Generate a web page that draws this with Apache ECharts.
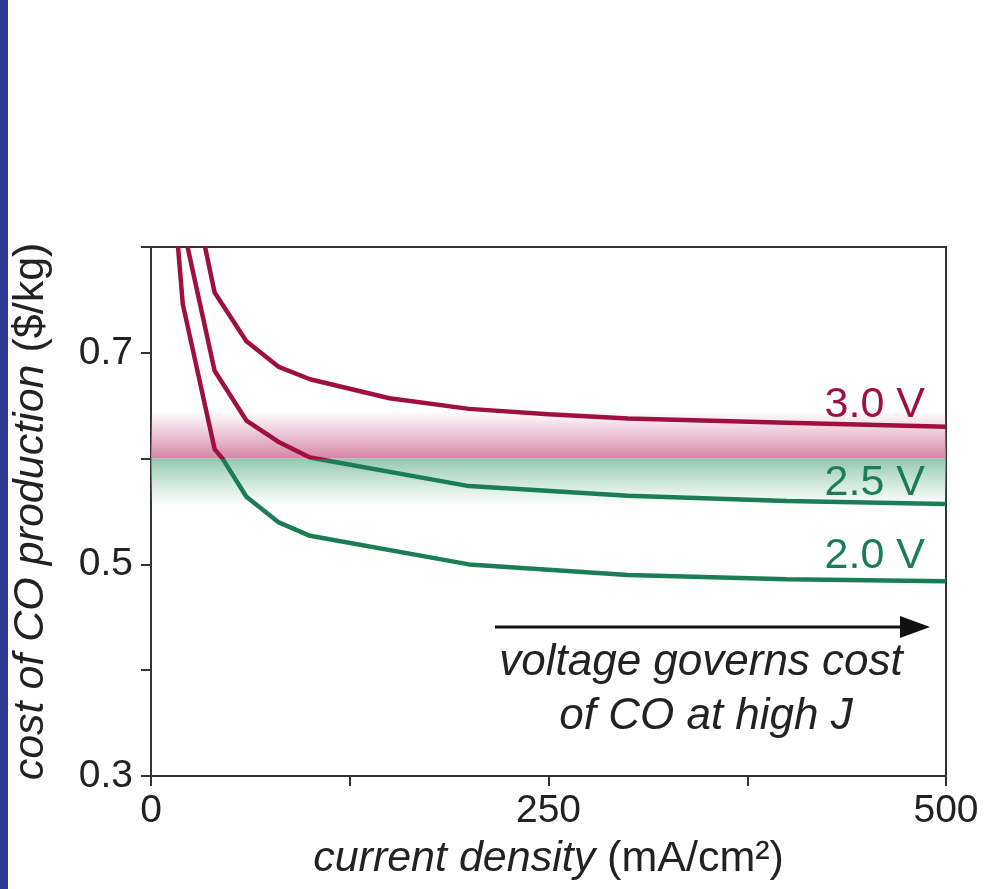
<!DOCTYPE html>
<html>
<head>
<meta charset="utf-8">
<script src="https://cdn.jsdelivr.net/npm/echarts@6/dist/echarts.min.js"></script>
<style>
  html, body { margin: 0; padding: 0; background: #fff; }
  #main { width: 984px; height: 889px; }
</style>
</head>
<body>
<div id="main"></div>
<script>
// current density (mA/cm2) and cost ($/kg)
var x30 = [34, 40, 60, 80, 100, 150, 200, 250, 300, 400, 500];
var y30 = [0.8, 0.757, 0.711, 0.687, 0.675, 0.657, 0.647, 0.642, 0.638, 0.634, 0.630];
var x25 = [23, 40, 60, 80, 100, 200, 300, 400, 500];
var y25 = [0.8, 0.683, 0.636, 0.616, 0.601, 0.574, 0.565, 0.560, 0.557];
var x20 = [17, 20, 40, 45, 60, 80, 100, 200, 300, 400, 500];
var y20 = [0.8, 0.746, 0.609, 0.600, 0.564, 0.540, 0.527, 0.500, 0.490, 0.486, 0.484];
var seriesNames = ['3.0 V', '2.5 V', '2.0 V'];
var xTickLabels = ['0', '250', '500'];
var yTickLabels = ['0.3', '0.5', '0.7'];
var threshold = 0.6;
var bandTop = 0.645;
var bandBottom = 0.555;

var RED = '#a0103f';
var GREEN = '#1b7d55';
var FONT = 'Liberation Sans';

function pairs(xs, ys) {
    return xs.map(function (x, i) { return [x, ys[i]]; });
}

var chart = echarts.init(document.getElementById('main'));

var lineStyle = { width: 4.5 };
var nameStyle = {
    fontFamily: FONT, fontSize: 43, color: '#222',
    rich: { i: { fontFamily: FONT, fontSize: 43, fontStyle: 'italic', color: '#222' } }
};

var option = {
    animation: false,
    textStyle: { fontFamily: FONT },
    grid: {
        left: 151, right: 38, top: 247, bottom: 113,
        outerBoundsMode: 'none',
        containLabel: false,
        show: true, borderColor: '#333', borderWidth: 2
    },
    visualMap: {
        type: 'piecewise',
        show: false,
        dimension: 1,
        seriesIndex: [1, 2, 3],
        pieces: [
            { gte: threshold, lte: 2, color: RED },
            { gte: -1, lt: threshold, color: GREEN }
        ]
    },
    xAxis: {
        type: 'value',
        min: 0, max: 500, interval: 125,
        name: '{i|current density} (mA/cm²)',
        nameLocation: 'middle',
        nameGap: 62,
        nameTextStyle: nameStyle,
        axisLine: { show: true, lineStyle: { color: '#333', width: 2 } },
        axisTick: { show: true, length: 10, lineStyle: { color: '#333', width: 2 } },
        splitLine: { show: false },
        axisLabel: {
            margin: 16, fontSize: 39, color: '#222', fontFamily: FONT,
            formatter: function (v) {
                var s = String(v);
                return xTickLabels.indexOf(s) >= 0 ? s : '';
            }
        }
    },
    yAxis: {
        type: 'value',
        min: 0.3, max: 0.8, interval: 0.1,
        name: '{i|cost of CO production} ($/kg)',
        nameLocation: 'middle',
        nameRotate: 90,
        nameGap: 98,
        nameTextStyle: nameStyle,
        axisLine: { show: true, lineStyle: { color: '#333', width: 2 } },
        axisTick: { show: true, length: 10, lineStyle: { color: '#333', width: 2 } },
        splitLine: { show: false },
        axisLabel: {
            margin: 18, fontSize: 39, color: '#222', fontFamily: FONT,
            formatter: function (v) {
                var s = v.toFixed(1);
                return yTickLabels.indexOf(s) >= 0 ? s : '';
            }
        }
    },
    series: [
        {
            // background bands, drawn under the curves
            type: 'line', data: [], z: 1, silent: true,
            markArea: {
                silent: true,
                data: [
                    [{
                        yAxis: threshold,
                        itemStyle: {
                            color: {
                                type: 'linear', x: 0, y: 0, x2: 0, y2: 1,
                                colorStops: [
                                    { offset: 0, color: 'rgba(214,138,168,0)' },
                                    { offset: 1, color: 'rgba(210,125,160,0.95)' }
                                ]
                            }
                        }
                    }, { yAxis: bandTop }],
                    [{
                        yAxis: bandBottom,
                        itemStyle: {
                            color: {
                                type: 'linear', x: 0, y: 0, x2: 0, y2: 1,
                                colorStops: [
                                    { offset: 0, color: 'rgba(125,188,160,0.85)' },
                                    { offset: 1, color: 'rgba(150,205,180,0)' }
                                ]
                            }
                        }
                    }, { yAxis: threshold }]
                ]
            }
        },
        { name: seriesNames[0], type: 'line', data: pairs(x30, y30), showSymbol: false, lineStyle: lineStyle, z: 5 },
        { name: seriesNames[1], type: 'line', data: pairs(x25, y25), showSymbol: false, lineStyle: lineStyle, z: 5 },
        { name: seriesNames[2], type: 'line', data: pairs(x20, y20), showSymbol: false, lineStyle: lineStyle, z: 5 }
    ],
    graphic: [
        { type: 'rect', left: 0, top: 0, z: 20, shape: { width: 8, height: 889 }, style: { fill: '#2b3990' } },
        { type: 'text', right: 59, top: 384, z: 20, style: { text: seriesNames[0], fill: RED, font: '43px "Liberation Sans"' } },
        { type: 'text', right: 59, top: 462, z: 20, style: { text: seriesNames[1], fill: GREEN, font: '43px "Liberation Sans"' } },
        { type: 'text', right: 59, top: 535, z: 20, style: { text: seriesNames[2], fill: GREEN, font: '43px "Liberation Sans"' } },
        { type: 'line', z: 20, shape: { x1: 495, y1: 627, x2: 905, y2: 627 }, style: { stroke: '#111', lineWidth: 3 } },
        { type: 'polygon', z: 20, shape: { points: [[930, 627], [900, 616], [900, 638]] }, style: { fill: '#111' } },
        { type: 'text', x: 701, y: 663, z: 20, style: { text: 'voltage governs cost', fill: '#222', font: 'italic 44px "Liberation Sans"', align: 'center', verticalAlign: 'middle' } },
        { type: 'text', x: 706, y: 717, z: 20, style: { text: 'of CO at high J', fill: '#222', font: 'italic 44px "Liberation Sans"', align: 'center', verticalAlign: 'middle' } }
    ]
};

chart.setOption(option);
</script>
</body>
</html>
